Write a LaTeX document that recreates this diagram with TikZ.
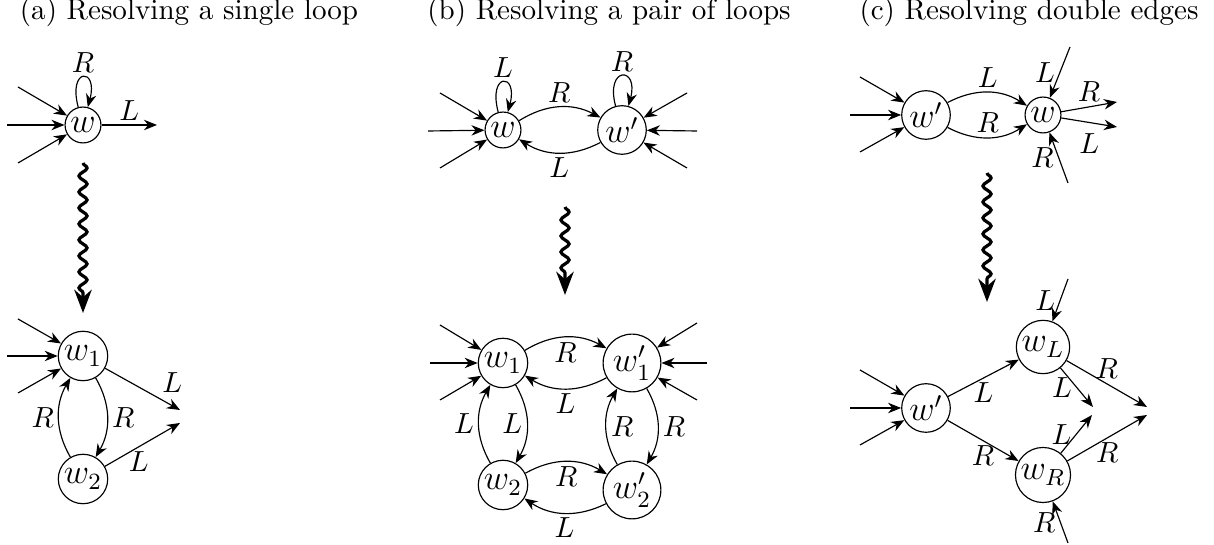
\documentclass[tikz,border=0pt]{standalone}
\usetikzlibrary{arrows.meta,decorations.pathmorphing}
\begin{document}
\begin{tikzpicture}[x=0.3441pt,y=-0.3441pt,
  st/.style={draw,circle,inner sep=0.8pt,font=\fontsize{12}{14}\selectfont},
  lab/.style={font=\fontsize{10}{12}\selectfont,inner sep=1.5pt},
  ar/.style={-{Stealth[length=4.5pt,width=3.6pt]}},
  squig/.style={line width=1.1pt,decorate,decoration={snake,amplitude=1.4pt,segment length=5.5pt,post length=6pt},-{Stealth[length=8pt,width=6pt]}},
  captxt/.style={font=\fontsize{10}{12}\selectfont,anchor=base}]
\useasboundingbox (0,0) rectangle (1214,545);

% captions
\node[captxt] (capa) at (189,20) {(a) Resolving a single loop};
\node[captxt] (capb) at (609,20) {(b) Resolving a pair of loops};
\node[captxt] (capc) at (1029,20) {(c) Resolving double edges};

% ---------- panel (a) ----------
\node[st] (aw) at (83,125) {$w$};
\coordinate (ai1) at (18,87);
\coordinate (ai2) at (7,125);
\coordinate (ai3) at (18,163);
\coordinate (ao) at (157,125);
\draw[ar] (ai1) -- (aw);
\draw[ar] (ai2) -- (aw);
\draw[ar] (ai3) -- (aw);
\draw[ar] (aw) -- node[lab,above]{$L$} (ao);
\draw[ar] (aw) to[loop above] node[lab,above]{$R$} (aw);

\coordinate (as1) at (83,163);
\coordinate (as2) at (83,313);
\draw[squig] (as1) -- (as2);

\node[st] (aw1) at (83,356) {$w_1$};
\node[st] (aw2) at (83,479) {$w_2$};
\coordinate (aj1) at (18,319);
\coordinate (aj2) at (7,356);
\coordinate (aj3) at (18,393);
\coordinate (ao1) at (180,410);
\coordinate (ao2) at (180,423);
\draw[ar] (aj1) -- (aw1);
\draw[ar] (aj2) -- (aw1);
\draw[ar] (aj3) -- (aw1);
\draw[ar] (aw1) to[bend left] node[lab,right]{$R$} (aw2);
\draw[ar] (aw2) to[bend left] node[lab,left]{$R$} (aw1);
\draw[ar] (aw1) -- node[lab,pos=0.7,above right]{$L$} (ao1);
\draw[ar] (aw2) -- node[lab,pos=0.45,below]{$L$} (ao2);

% ---------- panel (b) ----------
\node[st] (bw) at (503,130) {$w$};
\node[st] (bwp) at (622,130) {$w'$};
\coordinate (bi1) at (440,93);
\coordinate (bi2) at (428,131);
\coordinate (bi3) at (440,168);
\coordinate (bk1) at (687,93);
\coordinate (bk2) at (697,131);
\coordinate (bk3) at (687,168);
\draw[ar] (bi1) -- (bw);
\draw[ar] (bi2) -- (bw);
\draw[ar] (bi3) -- (bw);
\draw[ar] (bk1) -- (bwp);
\draw[ar] (bk2) -- (bwp);
\draw[ar] (bk3) -- (bwp);
\draw[ar] (bw) to[loop above] node[lab,above]{$L$} (bw);
\draw[ar] (bwp) to[loop above] node[lab,above]{$R$} (bwp);
\draw[ar] (bw) to[bend left] node[lab,above]{$R$} (bwp);
\draw[ar] (bwp) to[bend left] node[lab,below]{$L$} (bw);

\coordinate (bs1) at (565,207);
\coordinate (bs2) at (565,295);
\draw[squig] (bs1) -- (bs2);

\node[st] (b1) at (503,363) {$w_1$};
\node[st] (b1p) at (632,363) {$w'_1$};
\node[st] (b2) at (503,485) {$w_2$};
\node[st] (b2p) at (632,490) {$w'_2$};
\coordinate (bj1) at (440,325);
\coordinate (bj2) at (430,363);
\coordinate (bj3) at (440,400);
\coordinate (bm1) at (697,323);
\coordinate (bm2) at (707,363);
\coordinate (bm3) at (697,400);
\draw[ar] (bj1) -- (b1);
\draw[ar] (bj2) -- (b1);
\draw[ar] (bj3) -- (b1);
\draw[ar] (bm1) -- (b1p);
\draw[ar] (bm2) -- (b1p);
\draw[ar] (bm3) -- (b1p);
\draw[ar] (b1) to[bend left] node[lab,below]{$R$} (b1p);
\draw[ar] (b1p) to[bend left] node[lab,below]{$L$} (b1);
\draw[ar] (b1) to[bend left] node[lab,left]{$L$} (b2);
\draw[ar] (b2) to[bend left] node[lab,left]{$L$} (b1);
\draw[ar] (b1p) to[bend left] node[lab,right]{$R$} (b2p);
\draw[ar] (b2p) to[bend left] node[lab,right]{$R$} (b1p);
\draw[ar] (b2) to[bend left] node[lab,below]{$R$} (b2p);
\draw[ar] (b2p) to[bend left] node[lab,below]{$L$} (b2);

% ---------- panel (c) ----------
\node[st] (cwp) at (926,115) {$w'$};
\node[st] (cw) at (1043,115) {$w$};
\coordinate (ci1) at (860,77);
\coordinate (ci2) at (850,115);
\coordinate (ci3) at (860,152);
\coordinate (ctop) at (1070,47);
\coordinate (cbot) at (1068,183);
\coordinate (co1) at (1117,102);
\coordinate (co2) at (1117,127);
\draw[ar] (ci1) -- (cwp);
\draw[ar] (ci2) -- (cwp);
\draw[ar] (ci3) -- (cwp);
\draw[ar] (cwp) to[bend left] node[lab,above]{$L$} (cw);
\draw[ar] (cwp) to[bend right] node[lab,above]{$R$} (cw);
\draw[ar] (ctop) -- node[lab,left]{$L$} (cw);
\draw[ar] (cbot) -- node[lab,left]{$R$} (cw);
\draw[ar] (cw) -- node[lab,above]{$R$} (co1);
\draw[ar] (cw) -- node[lab,below,yshift=-2pt]{$L$} (co2);

\coordinate (cs1) at (987,173);
\coordinate (cs2) at (987,302);
\draw[squig] (cs1) -- (cs2);

\node[st] (cwq) at (926,408) {$w'$};
\node[st] (cL) at (1043,347) {$w_L$};
\node[st] (cR) at (1043,475) {$w_R$};
\coordinate (cj1) at (860,370);
\coordinate (cj2) at (850,408);
\coordinate (cj3) at (860,445);
\coordinate (cLt) at (1068,279);
\coordinate (cRb) at (1068,543);
\coordinate (cp1) at (1093,407);
\coordinate (cp2) at (1147,407);
\coordinate (cp3) at (1092,415);
\coordinate (cp4) at (1147,415);
\draw[ar] (cj1) -- (cwq);
\draw[ar] (cj2) -- (cwq);
\draw[ar] (cj3) -- (cwq);
\draw[ar] (cwq) -- node[lab,below]{$L$} (cL);
\draw[ar] (cwq) -- node[lab,below]{$R$} (cR);
\draw[ar] (cLt) -- node[lab,left]{$L$} (cL);
\draw[ar] (cRb) -- node[lab,left]{$R$} (cR);
\draw[ar] (cL) -- node[lab,left]{$L$} (cp1);
\draw[ar] (cL) -- node[lab,above]{$R$} (cp2);
\draw[ar] (cR) -- node[lab,left]{$L$} (cp3);
\draw[ar] (cR) -- node[lab,below]{$R$} (cp4);
\end{tikzpicture}
\end{document}
